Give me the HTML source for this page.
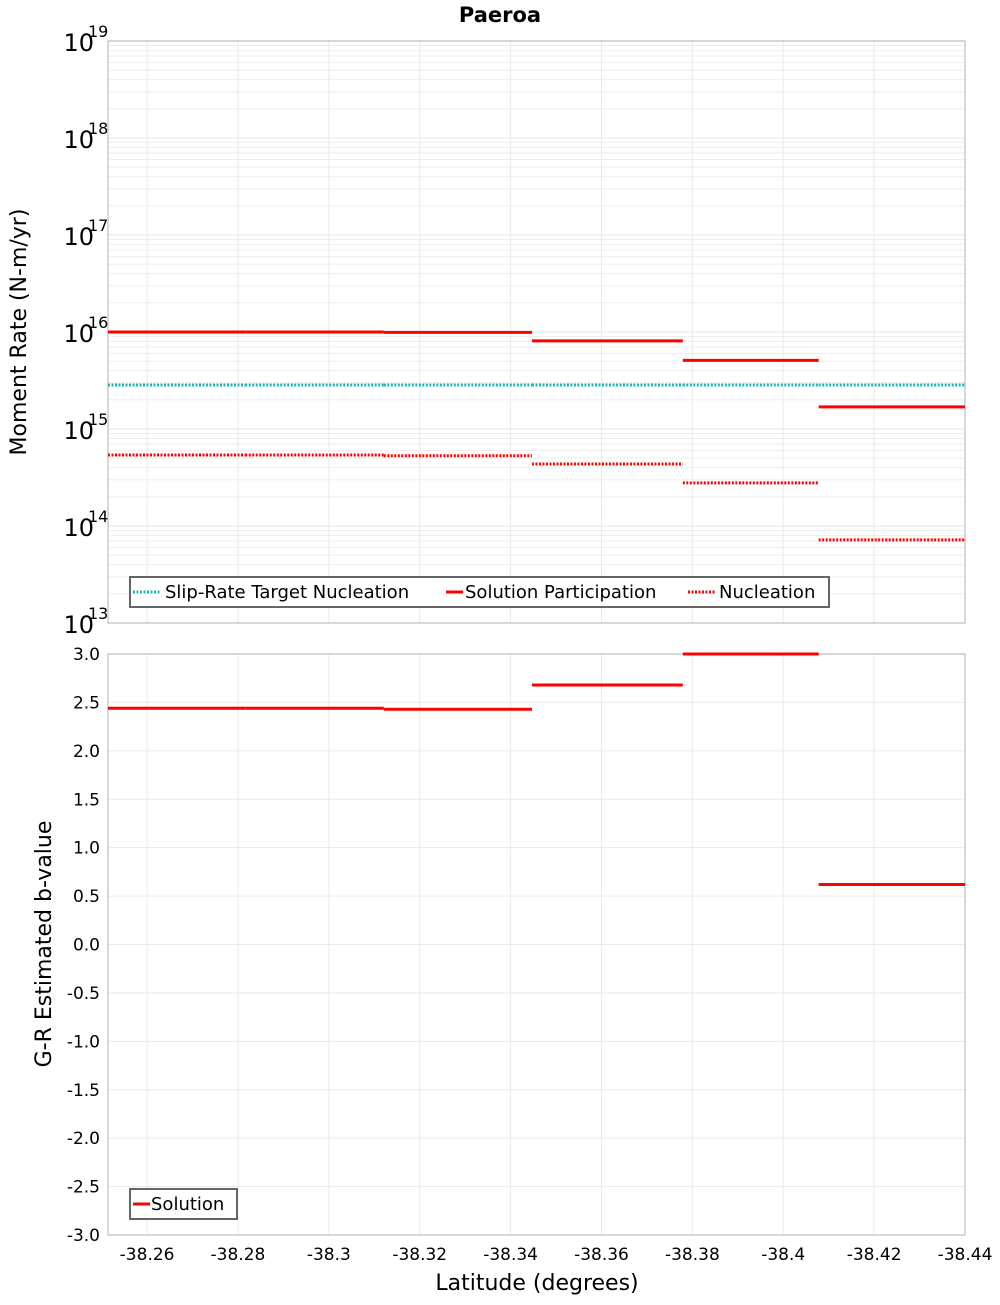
<!DOCTYPE html>
<html><head><meta charset="utf-8"><style>
body{margin:0;background:#fff;}
svg{font-family:"DejaVu Sans","Liberation Sans",sans-serif;}
</style></head><body>
<svg id="chart" width="1000" height="1300" xmlns="http://www.w3.org/2000/svg">
<rect width="1000" height="1300" fill="#fff"/>
<text x="500" y="22" text-anchor="middle" font-weight="bold" font-size="21">Paeroa</text>
<g id="topG"></g><g id="botG"></g>
</svg>
<script>
const binEdges=[-38.2514,-38.2816,-38.3121,-38.3447,-38.3779,-38.4078,-38.44];
const participation=[1.0e16,1.0e16,9.9e15,8.1e15,5.1e15,1.69e15];
const nucleation=[5.4e14,5.4e14,5.3e14,4.36e14,2.78e14,7.2e13];
const target=[2.84e15,2.84e15,2.84e15,2.84e15,2.84e15,2.84e15];
const bValues=[2.44,2.44,2.43,2.68,3.0,0.62];
const xTicks=[-38.26,-38.28,-38.3,-38.32,-38.34,-38.36,-38.38,-38.4,-38.42,-38.44];
const xTickLabels=["-38.26","-38.28","-38.3","-38.32","-38.34","-38.36","-38.38","-38.4","-38.42","-38.44"];
const yExps=[13,14,15,16,17,18,19];
const bTicks=[-3,-2.5,-2,-1.5,-1,-0.5,0,0.5,1,1.5,2,2.5,3];
const NS="http://www.w3.org/2000/svg";
const L=108,R=965,T1=41,B1=623,T2=654,B2=1235;
const xMin=-38.2514,xMax=-38.44;
const xs=v=>L+(v-xMin)/(xMax-xMin)*(R-L);
const y1=v=>B1-(Math.log10(v)-13)/6*(B1-T1);
const y2=v=>B2-(v+3)/6*(B2-T2);
function mk(tag,attrs,parent,txt){const e=document.createElementNS(NS,tag);for(const k in attrs)e.setAttribute(k,attrs[k]);if(txt!==undefined)e.textContent=txt;parent.appendChild(e);return e;}
const topG=document.getElementById('topG'),botG=document.getElementById('botG');
for(let d=13;d<19;d++){for(let m=1;m<10;m++){const y=y1(m*Math.pow(10,d));const g=mk('line',{x1:L,x2:R,y1:y,y2:y,stroke:m===1?'#e4e4e4':'#eeeeee','stroke-width':1},topG);}}
xTicks.forEach(v=>{const x=xs(v);const g=mk('line',{x1:x,x2:x,y1:T1,y2:B1,stroke:'#eaeaea'},topG);
const g2=mk('line',{x1:x,x2:x,y1:T2,y2:B2,stroke:'#eaeaea'},botG);});
bTicks.forEach(v=>{const y=y2(v);const g=mk('line',{x1:L,x2:R,y1:y,y2:y,stroke:'#eaeaea'},botG);});
let f=mk('rect',{x:L,y:T1,width:R-L,height:B1-T1,fill:'none',stroke:'#b0b0b0'},topG);
f=mk('rect',{x:L,y:T2,width:R-L,height:B2-T2,fill:'none',stroke:'#b0b0b0'},botG);
yExps.forEach(e=>{const y=y1(Math.pow(10,e));const t=mk('text',{x:94,y:y+10,'text-anchor':'end','font-size':24},topG,'10');
const s=mk('text',{x:88,y:y-4,'font-size':16},topG,String(e));});
let at=mk('text',{transform:'translate(26,332) rotate(-90)','text-anchor':'middle','font-size':22},topG,'Moment Rate (N-m/yr)');
bTicks.forEach(v=>{const t=mk('text',{x:100,y:y2(v)+6,'text-anchor':'end','font-size':17},botG,v.toFixed(1));});
at=mk('text',{transform:'translate(51,944) rotate(-90)','text-anchor':'middle','font-size':22},botG,'G-R Estimated b-value');
xTicks.forEach((v,i)=>{const t=mk('text',{x:xs(v),y:1260,'text-anchor':'middle','font-size':17},botG,xTickLabels[i]);});
at=mk('text',{x:537,y:1290,'text-anchor':'middle','font-size':22},botG,'Latitude (degrees)');
function steps(arr,yf,parent,color,dash,name){arr.forEach((v,i)=>{const y=yf(v);const a={x1:xs(binEdges[i]),x2:xs(binEdges[i+1]),y1:y,y2:y,stroke:color,'stroke-width':3};if(dash)a['stroke-dasharray']=dash;const l=mk('line',a,parent);});}
steps(target,y1,topG,'#1ab5b5','2,1.5','target-nucleation-segment');
steps(participation,y1,topG,'#ff0000',null,'participation-segment');
steps(nucleation,y1,topG,'#ff0000','2,1.5','nucleation-segment');
steps(bValues,y2,botG,'#ff0000',null,'b-value-segment');
let lg=mk('g',{},topG);
mk('rect',{x:130,y:577,width:699,height:30,fill:'#fff',stroke:'#666','stroke-width':2},lg);
mk('line',{x1:133,x2:161,y1:592,y2:592,stroke:'#1ab5b5','stroke-width':3,'stroke-dasharray':'2,1.5'},lg);
mk('text',{x:165,y:598,'font-size':18},lg,'Slip-Rate Target Nucleation');
mk('line',{x1:446,x2:463,y1:592,y2:592,stroke:'#ff0000','stroke-width':3},lg);
mk('text',{x:465,y:598,'font-size':18},lg,'Solution Participation');
mk('line',{x1:688,x2:716,y1:592,y2:592,stroke:'#ff0000','stroke-width':3,'stroke-dasharray':'2,1.5'},lg);
mk('text',{x:719,y:598,'font-size':18},lg,'Nucleation');
lg=mk('g',{},botG);
mk('rect',{x:130,y:1189,width:107,height:30,fill:'#fff',stroke:'#666','stroke-width':2},lg);
mk('line',{x1:133,x2:150,y1:1204,y2:1204,stroke:'#ff0000','stroke-width':3},lg);
mk('text',{x:151,y:1210,'font-size':18},lg,'Solution');
</script>
</body></html>
